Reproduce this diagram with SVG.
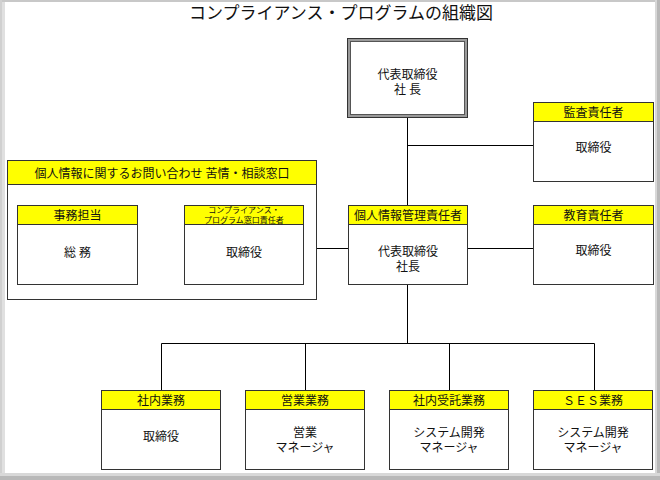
<svg xmlns="http://www.w3.org/2000/svg" width="660" height="480" viewBox="0 0 660 480">
<defs>
<marker id="ah" viewBox="0 0 8 8" refX="8" refY="4" markerWidth="8" markerHeight="8" markerUnits="userSpaceOnUse" orient="auto-start-reverse">
<path d="M0,0 L8,4 L0,8 Z" fill="#000"/>
</marker>
</defs>
<style>
text{font-family:"Liberation Serif","Noto Sans CJK JP",serif;fill:#111;text-anchor:middle}
.box{fill:#fff;stroke:#333;stroke-width:1}
.hdr{fill:#ffff00;stroke:#333;stroke-width:1}
.t{font-size:12px}
.h{font-size:12px}
.s{font-size:8px}
.ln{stroke:#000;stroke-width:1;fill:none}
</style>
<rect x="0" y="0" width="660" height="480" fill="#fff"/>
<!-- frame -->
<rect x="0" y="0" width="660" height="2" fill="#c8c8c8"/>
<rect x="0" y="0" width="2" height="480" fill="#d0d0d0"/>
<rect x="2" y="2" width="3" height="474" fill="#e0e0e0"/>
<rect x="655" y="0" width="5" height="480" fill="#d8d8d8"/>
<rect x="657" y="0" width="3" height="480" fill="#b8b8b8"/>
<rect x="0" y="473" width="660" height="7" fill="#d8d8d8"/>
<rect x="0" y="476" width="660" height="4" fill="#b8b8b8"/>
<text x="341" y="19" style="font-size:17px">コンプライアンス・プログラムの組織図</text>
<g id="connectors">
<path class="ln" d="M407.5,118 V205 M407.5,145.5 H533 M468,248.5 H533 M316,248.5 H348 M407.5,284 V343.5 M161.5,343.5 H594.5 M161.5,343.5 V390 M305.5,343.5 V390 M449.5,343.5 V390 M594.5,343.5 V390"/>
<line class="ln" x1="138" y1="252.5" x2="184" y2="252.5" marker-start="url(#ah)" marker-end="url(#ah)"/>
<text class="t" x="160" y="243">連絡</text>
</g>
<g id="ceo">
<rect x="347.5" y="38.5" width="120" height="79" fill="#9a9a9a" stroke="#333"/>
<rect x="350.5" y="41.5" width="114" height="73" fill="#fff" stroke="#555"/>
<text class="t" x="407.5" y="79">代表取締役<tspan x="407.5" dy="15">社 長</tspan></text>
</g>
<g id="audit">
<rect class="box" x="533.5" y="102.5" width="120" height="79"/>
<rect class="hdr" x="533.5" y="102.5" width="120" height="19"/>
<text class="h" x="593.5" y="117">監査責任者</text>
<text class="t" x="593.5" y="152">取締役</text>
</g>
<g id="inquiry">
<rect class="box" x="7.5" y="160.5" width="309" height="139"/>
<rect class="hdr" x="7.5" y="160.5" width="309" height="24"/>
<text class="h" x="162" y="177.5">個人情報に関するお問い合わせ 苦情・相談窓口</text>
</g>
<g id="general">
<rect class="box" x="17.5" y="205.5" width="120" height="79"/>
<rect class="hdr" x="17.5" y="205.5" width="120" height="19"/>
<text class="h" x="77.5" y="220">事務担当</text>
<text class="t" x="77.5" y="257">総 務</text>
</g>
<g id="contact">
<rect class="box" x="184.5" y="205.5" width="119" height="79"/>
<rect class="hdr" x="184.5" y="205.5" width="119" height="19"/>
<text class="s" x="244" y="213">コンプライアンス・<tspan x="244" dy="9.5">プログラム窓口責任者</tspan></text>
<text class="t" x="244" y="257">取締役</text>
</g>
<g id="privacy">
<rect class="box" x="348.5" y="205.5" width="119" height="79"/>
<rect class="hdr" x="348.5" y="205.5" width="119" height="19"/>
<text class="h" x="408" y="220">個人情報管理責任者</text>
<text class="t" x="408" y="256">代表取締役<tspan x="408" dy="15">社長</tspan></text>
</g>
<g id="education">
<rect class="box" x="533.5" y="205.5" width="120" height="79"/>
<rect class="hdr" x="533.5" y="205.5" width="120" height="19"/>
<text class="h" x="593.5" y="220">教育責任者</text>
<text class="t" x="593.5" y="255">取締役</text>
</g>
<g id="internal">
<rect class="box" x="101.5" y="390.5" width="119" height="79"/>
<rect class="hdr" x="101.5" y="390.5" width="119" height="19"/>
<text class="h" x="161" y="405">社内業務</text>
<text class="t" x="161" y="441">取締役</text>
</g>
<g id="sales">
<rect class="box" x="245.5" y="390.5" width="119" height="79"/>
<rect class="hdr" x="245.5" y="390.5" width="119" height="19"/>
<text class="h" x="305" y="405">営業業務</text>
<text class="t" x="305" y="437">営業<tspan x="305" dy="15">マネージャ</tspan></text>
</g>
<g id="contract">
<rect class="box" x="389.5" y="390.5" width="119" height="79"/>
<rect class="hdr" x="389.5" y="390.5" width="119" height="19"/>
<text class="h" x="449" y="405">社内受託業務</text>
<text class="t" x="449" y="437">システム開発<tspan x="449" dy="15">マネージャ</tspan></text>
</g>
<g id="ses">
<rect class="box" x="533.5" y="390.5" width="119" height="79"/>
<rect class="hdr" x="533.5" y="390.5" width="119" height="19"/>
<text class="h" x="593" y="405">ＳＥＳ業務</text>
<text class="t" x="593" y="437">システム開発<tspan x="593" dy="15">マネージャ</tspan></text>
</g>
</svg>
